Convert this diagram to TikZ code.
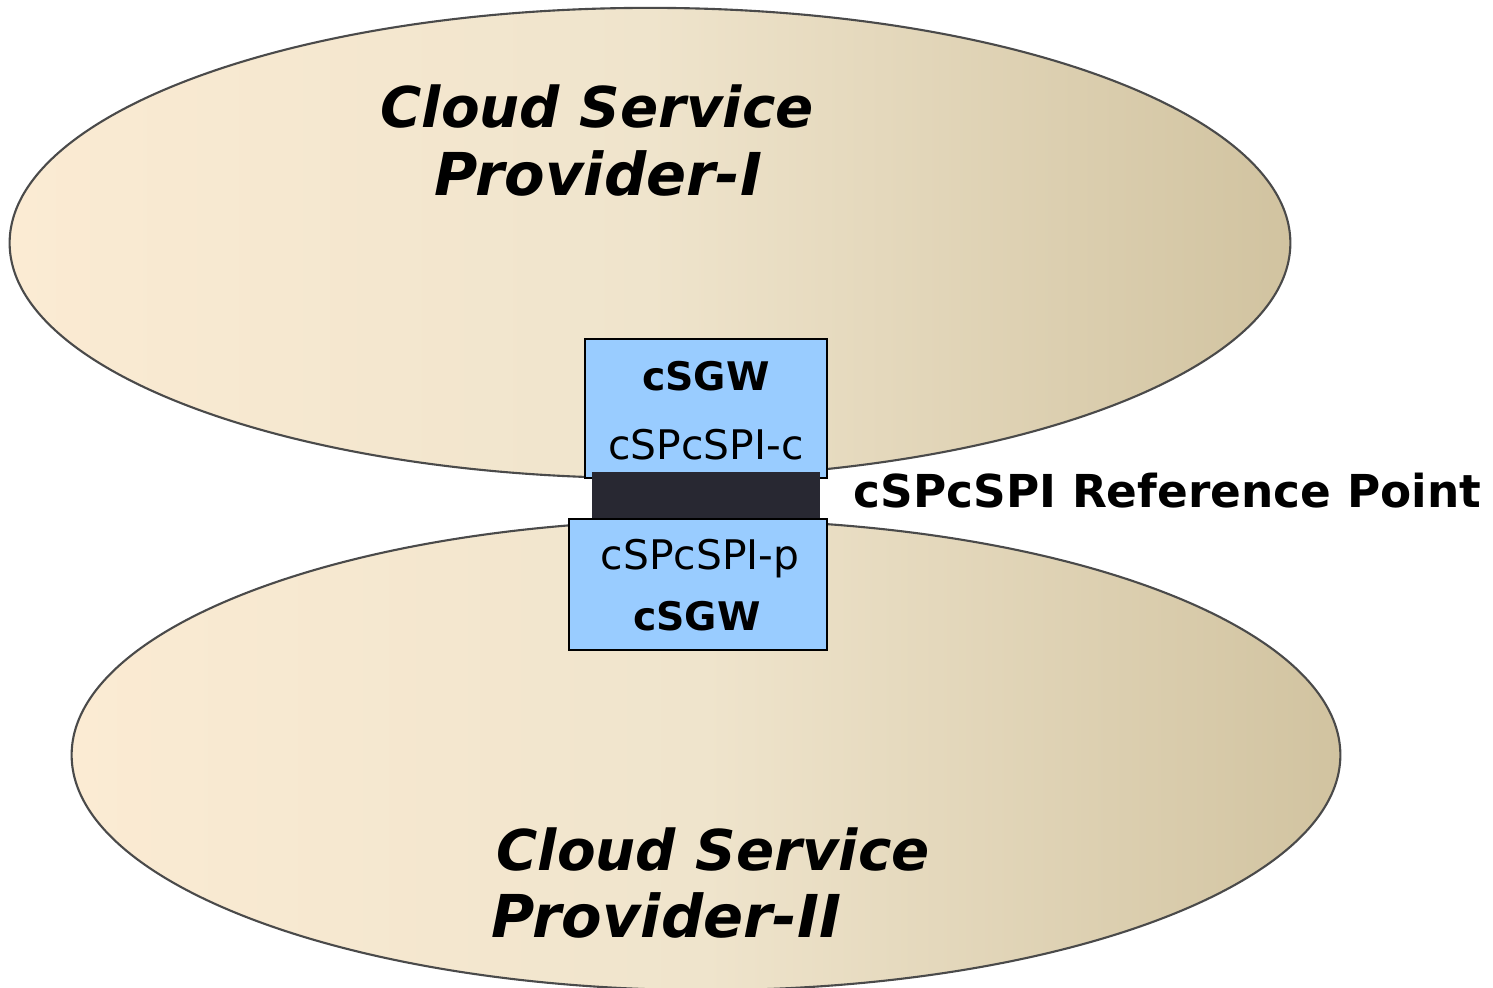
\documentclass[tikz,border=0pt]{standalone}
\usepackage{fontspec}
\setmainfont{DejaVu Sans}
\usetikzlibrary{shapes.geometric}
\definecolor{creamL}{HTML}{FBEBD3}
\definecolor{creamM}{HTML}{EFE4CC}
\definecolor{creamR}{HTML}{D1C3A0}
\definecolor{edge}{HTML}{4A4A4A}
\definecolor{boxblue}{HTML}{99CCFF}
\definecolor{barblack}{HTML}{282832}
\tikzset{
  cloudarea/.style={ellipse, draw=edge, line width=0.6pt, left color=creamL, right color=creamR, middle color=creamM, inner sep=0pt},
  gwbox/.style={rectangle, draw=black, line width=0.6pt, fill=boxblue, inner sep=0pt},
  refbar/.style={rectangle, fill=barblack, inner sep=0pt},
  title/.style={font=\fontsize{16.8}{20}\selectfont\bfseries\itshape, anchor=base, inner sep=0pt},
  titlewide/.style={title, font=\fontsize{16}{20}\selectfont\bfseries\itshape},
  gwname/.style={font=\fontsize{11.2}{13}\selectfont\bfseries, anchor=base, inner sep=0pt},
  ifname/.style={font=\fontsize{11.6}{13}\selectfont, anchor=base, inner sep=0pt},
  reflabel/.style={font=\fontsize{12.9}{15}\selectfont\bfseries, anchor=base west, inner sep=0pt}
}
\begin{document}
\begin{tikzpicture}[x=0.01cm, y=-0.01cm]
\useasboundingbox (0,0) rectangle (1493,988);
\clip (0,0) rectangle (1493,988);
\node[cloudarea, minimum width=12.80cm, minimum height=4.70cm] (sp1) at (650,243) {};
\node[cloudarea, minimum width=12.68cm, minimum height=4.70cm] (sp2) at (706,755) {};
\node[gwbox, minimum width=2.42cm, minimum height=1.39cm] (gw1) at (706,408.5) {};
\node[refbar, minimum width=2.28cm, minimum height=0.47cm] (bar) at (706,495.5) {};
\node[gwbox, minimum width=2.58cm, minimum height=1.31cm] (gw2) at (698,584.5) {};
\node[titlewide] (t1a) at (597,128) {Cloud Service};
\node[title] (t1b) at (598,196) {Provider-I};
\node[titlewide] (t2a) at (713,870) {Cloud Service};
\node[title] (t2b) at (666,937) {Provider-II};
\node[gwname] (g1) at (706,390) {cSGW};
\node[ifname] (c1) at (706,459) {cSPcSPI-c};
\node[ifname] (p2) at (700,569) {cSPcSPI-p};
\node[gwname] (g2) at (697,630) {cSGW};
\node[reflabel] (ref) at (853,508) {cSPcSPI Reference Point};
\end{tikzpicture}
\end{document}
